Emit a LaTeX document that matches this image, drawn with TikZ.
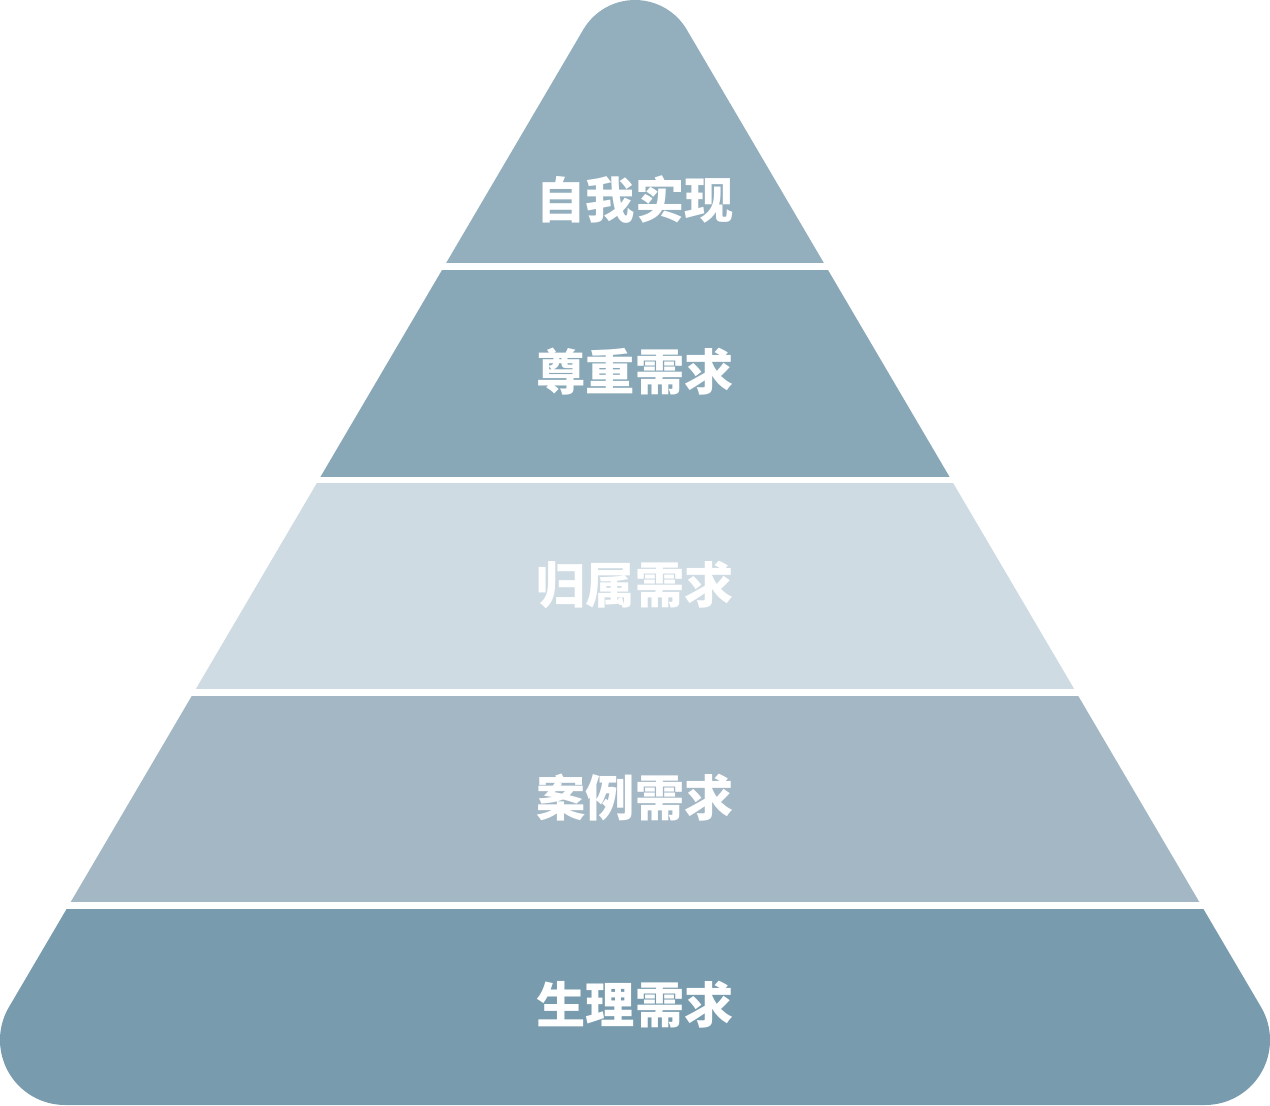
\documentclass[tikz,border=0pt]{standalone}
\usepackage{fontspec}
\newfontfamily\cjk{Noto Sans CJK SC}
\definecolor{lvlOne}{HTML}{93AFBD}
\definecolor{lvlTwo}{HTML}{88A8B8}
\definecolor{lvlThree}{HTML}{CEDBE3}
\definecolor{lvlFour}{HTML}{A3B7C5}
\definecolor{lvlFive}{HTML}{789CAE}

\begin{document}
\begin{tikzpicture}[
  x=0.02cm,y=0.02cm,
  level/.style={text=white, font=\cjk\bfseries\fontsize{28}{30}\selectfont,
                inner sep=0pt, anchor=center},
]
  \path[use as bounding box] (0,0) rectangle (1270,1105);

  % Pyramid outline with round tips, cut into five bands.
  \begin{scope}
    \clip ([shift={(30.5:60)}]635,1045) arc[start angle=30.5, end angle=149.5, radius=60]
      -- ([shift={(149.5:65)}]65,65) arc[start angle=149.5, end angle=270, radius=65]
      -- ([shift={(-90:65)}]1205,65) arc[start angle=-90, end angle=30.5, radius=65]
      -- cycle;
    \fill[lvlFive] (-60,-10) rectangle (1330,196);
    \fill[lvlFour] (-60,203) rectangle (1330,409);
    \fill[lvlThree] (-60,416) rectangle (1330,622);
    \fill[lvlTwo] (-60,628) rectangle (1330,835);
    \fill[lvlOne] (-60,842) rectangle (1330,1170);
  \end{scope}

  % Labels, top to bottom.
  \node[level] (self) at (635,905) {自我实现};
  \node[level] (esteem) at (635,733) {尊重需求};
  \node[level] (belong) at (635,520) {归属需求};
  \node[level] (safety) at (635,307) {案例需求};
  \node[level] (body) at (635,100) {生理需求};
\end{tikzpicture}
\end{document}
